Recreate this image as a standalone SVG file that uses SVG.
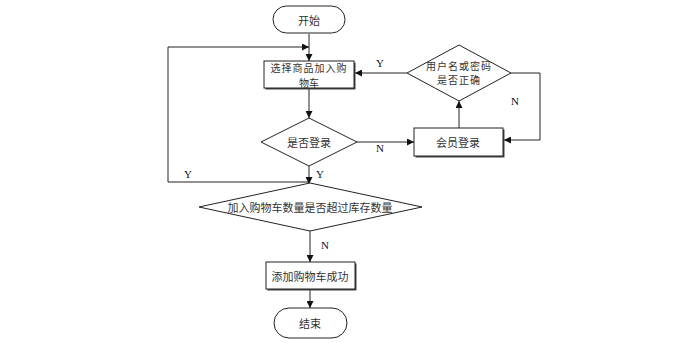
<svg xmlns="http://www.w3.org/2000/svg" width="697" height="343" viewBox="0 0 697 343">
<defs>
<style>
.n{fill:#fff;stroke:#222;stroke-width:1}
.sh{fill:#444;stroke:none}
.t{font-family:"Noto Sans CJK SC","Liberation Serif",serif;font-size:11px;fill:#333;text-anchor:middle;dominant-baseline:central}
.s{font-size:10px}
.l{font-family:"Liberation Serif",serif;font-size:11px;fill:#111;text-anchor:middle;dominant-baseline:central}
.c{fill:none;stroke:#222;stroke-width:1}
</style>
<marker id="a" viewBox="0 0 10 10" refX="10" refY="5" markerWidth="7" markerHeight="7" orient="auto" markerUnits="userSpaceOnUse"><path d="M0,0L10,5L0,10z" fill="#111"/></marker>
</defs>
<rect width="697" height="343" fill="#fff"/>
<g id="connectors">
<path class="c" d="M309,34V61" marker-end="url(#a)"/>
<path class="c" d="M309,182H168V47H309" marker-end="url(#a)"/>
<path class="c" d="M309,88V118" marker-end="url(#a)"/>
<path class="c" d="M357,142H414" marker-end="url(#a)"/>
<path class="c" d="M459,128V101" marker-end="url(#a)"/>
<path class="c" d="M407,73H355" marker-end="url(#a)"/>
<path class="c" d="M511,73H540V140H504" marker-end="url(#a)"/>
<path class="c" d="M309,166V184" marker-end="url(#a)"/>
<path class="c" d="M310,231V262" marker-end="url(#a)"/>
<path class="c" d="M310,289V308" marker-end="url(#a)"/>
<text class="l" x="380" y="63">Y</text>
<text class="l" x="515" y="101">N</text>
<text class="l" x="380" y="148">N</text>
<text class="l" x="188" y="174">Y</text>
<text class="l" x="320" y="174">Y</text>
<text class="l" x="325" y="245">N</text>
</g>
<g id="start">
<rect class="n" x="273" y="6" width="72" height="27" rx="13.5"/>
<text class="t" x="309" y="19.5">开始</text>
</g>
<g id="select">
<rect class="sh" x="265.5" y="62.5" width="90" height="27"/>
<rect class="n" x="264" y="61" width="90" height="27"/>
<text class="t s" x="309" y="67.5" letter-spacing="1">选择商品加入购</text>
<text class="t s" x="309" y="82">物车</text>
</g>
<g id="logged">
<polygon class="n" points="309,118 357,142 309,166 261,142"/>
<text class="t" x="309" y="142">是否登录</text>
</g>
<g id="login">
<rect class="sh" x="415.5" y="129.5" width="89" height="28"/>
<rect class="n" x="414" y="128" width="89" height="28"/>
<text class="t" x="458" y="142">会员登录</text>
</g>
<g id="check">
<polygon class="n" points="459,45 511,73 459,101 407,73"/>
<text class="t s" x="459" y="65" letter-spacing="1">用户名或密码</text>
<text class="t s" x="459" y="79.5" letter-spacing="1">是否正确</text>
</g>
<g id="stock">
<polygon class="n" points="310,183 422,207 310,231 199,207"/>
<text class="t" x="310" y="207">加入购物车数量是否超过库存数量</text>
</g>
<g id="success">
<rect class="sh" x="267.5" y="263.5" width="89" height="27"/>
<rect class="n" x="266" y="262" width="89" height="27"/>
<text class="t" x="310" y="275.5">添加购物车成功</text>
</g>
<g id="end">
<rect class="n" x="274" y="308" width="73" height="30" rx="15"/>
<text class="t" x="310" y="323">结束</text>
</g>
</svg>
